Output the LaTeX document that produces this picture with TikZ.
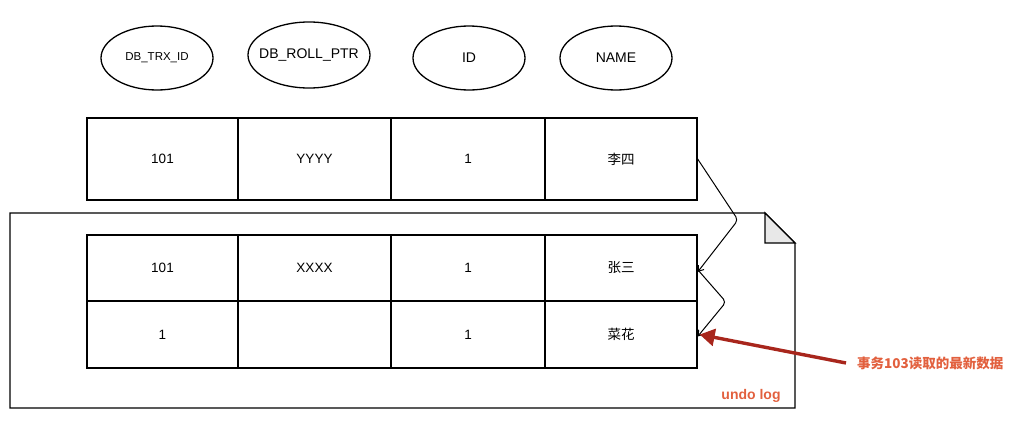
\documentclass[tikz,border=0pt]{standalone}
\usepackage{fontspec}
\setmainfont{Liberation Sans}
\newfontfamily\cjk{Noto Sans CJK SC}
\usetikzlibrary{shapes.geometric,arrows.meta}
\definecolor{darkred}{RGB}{168,38,28}
\definecolor{labelred}{RGB}{226,96,62}
\definecolor{foldgray}{RGB}{232,232,232}
\tikzset{
  colhead/.style={ellipse,draw,line width=1.3pt,minimum width=112pt,minimum height=64pt,inner sep=0pt,font=\fontsize{14}{16}\selectfont},
  cell/.style={draw,line width=1.3pt,inner sep=0pt,font=\fontsize{13.5}{15}\selectfont},
  linkarrow/.style={line width=1pt,-{Straight Barb[length=5pt,width=7pt]},rounded corners=4pt},
  redarrow/.style={line width=3.4pt,draw=darkred,-{Triangle[length=15pt,width=17pt]}},
  redlabel/.style={text=labelred,font=\fontsize{13.5}{15}\selectfont\bfseries,inner sep=2pt}
}
\begin{document}
\begin{tikzpicture}[x=1pt,y=-1pt]
\useasboundingbox (0,0) rectangle (1017,423);
% column headers
\node[colhead,font=\fontsize{11.5}{13}\selectfont] (h1) at (157,58) {DB\_TRX\_ID};
\node[colhead,minimum width=122pt,minimum height=66pt] (h2) at (309,55) {\makebox[0pt]{\raisebox{3pt}{DB\_ROLL\_PTR}}};
\node[colhead] (h3) at (469,58) {ID};
\node[colhead] (h4) at (616,58) {NAME};
% top table
\node[cell,minimum width=151pt,minimum height=82pt] (t1) at (162.5,159) {101};
\node[cell,minimum width=153pt,minimum height=82pt] (t2) at (314.5,159) {YYYY};
\node[cell,minimum width=154pt,minimum height=82pt] (t3) at (468,159) {1};
\node[cell,minimum width=152pt,minimum height=82pt] (t4) at (621,159) {\cjk 李四};
% undo log frame
\draw[line width=1.3pt] (10,213) -- (765,213) -- (795,243) -- (795,408) -- (10,408) -- cycle;
\filldraw[line width=1.3pt,fill=foldgray] (765,213) -- (765,243) -- (795,243) -- cycle;
% undo log table
\node[cell,minimum width=151pt,minimum height=66pt] (u11) at (162.5,268) {101};
\node[cell,minimum width=153pt,minimum height=66pt] (u12) at (314.5,268) {XXXX};
\node[cell,minimum width=154pt,minimum height=66pt] (u13) at (468,268) {1};
\node[cell,minimum width=152pt,minimum height=66pt] (u14) at (621,268) {\cjk 张三};
\node[cell,minimum width=151pt,minimum height=67pt] (u21) at (162.5,334.5) {1};
\node[cell,minimum width=153pt,minimum height=67pt] (u22) at (314.5,334.5) {};
\node[cell,minimum width=154pt,minimum height=67pt] (u23) at (468,334.5) {1};
\node[cell,minimum width=152pt,minimum height=67pt] (u24) at (621,334.5) {\cjk 菜花};
% version chain
\coordinate (b1) at (738,220);
\coordinate (b2) at (726,302);
\coordinate (s2) at (698,270);
\draw[linkarrow] (t4.east) -- (b1) -- ([yshift=-4pt]u14.east);
\draw[linkarrow] (s2) -- (b2) -- ([yshift=-2pt]u24.east);
% labels
\node[redlabel,anchor=west] (rl) at (855,363) {\cjk 事务103读取的最新数据};
\coordinate (ra) at (846,363);
\draw[redarrow] (ra) -- ([xshift=2pt]u24.east);
\node[redlabel,anchor=center,font=\fontsize{14}{16}\selectfont\bfseries] (ul) at (751,396) {undo log};
\end{tikzpicture}
\end{document}
